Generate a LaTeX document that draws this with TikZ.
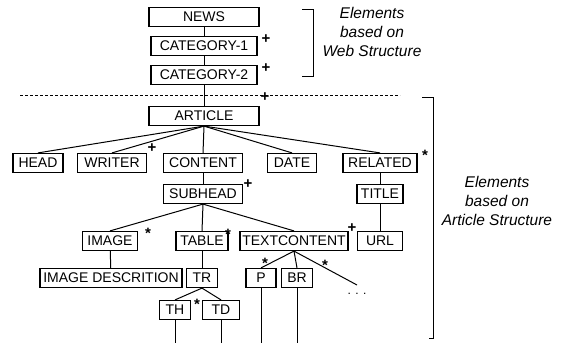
\documentclass[tikz,border=0pt]{standalone}
\usepackage{fontspec}
\setmainfont{Liberation Sans}

\begin{document}
\begin{tikzpicture}[x=1pt,y=-1pt]

\tikzset{box/.style = {shape=rectangle,draw,line width=1.2pt,inner sep=0pt,minimum height=19pt,font=\fontsize{14}{14}\selectfont}}
\tikzset{edge/.style = {line width=1pt}}
\tikzset{tag/.style = {inner sep=0pt,font=\fontsize{15}{15}\selectfont\bfseries}}
\tikzset{note/.style = {align=center,font=\fontsize{15.5}{19}\selectfont\itshape}}
\useasboundingbox (0,0) rectangle (569,348);

%web structure
\node[box, minimum width=110pt] (news) at (204,17) {NEWS};
\node[box, minimum width=106pt] (cat1) at (204,46) {CATEGORY-1};
\node[box, minimum width=106pt] (cat2) at (204,75) {CATEGORY-2};

%article structure
\node[box, minimum width=110pt] (article) at (204,116) {ARTICLE};
\node[box, minimum width=50pt] (head) at (38,163) {HEAD};
\node[box, minimum width=69pt] (writer) at (112,163) {WRITER};
\node[box, minimum width=79pt] (content) at (203,163) {CONTENT};
\node[box, minimum width=49pt] (date) at (292,163) {DATE};
\node[box, minimum width=74pt] (related) at (380,163) {RELATED};
\node[box, minimum width=79pt] (subhead) at (203,194) {SUBHEAD};
\node[box, minimum width=46pt] (title) at (380,194) {TITLE};
\node[box, minimum width=55pt] (image) at (110,241) {IMAGE};
\node[box, minimum width=52pt] (table) at (202,241) {TABLE};
\node[box, minimum width=108pt] (textcontent) at (294,241) {TEXTCONTENT};
\node[box, minimum width=45pt] (url) at (380,241) {URL};
\node[box, minimum width=142pt] (imgdesc) at (111,278) {IMAGE DESCRITION};
\node[box, minimum width=31pt] (tr) at (202,278) {TR};
\node[box, minimum width=30pt] (p) at (261,278) {P};
\node[box, minimum width=31pt] (br) at (297,278) {BR};
\node[box, minimum width=31pt] (th) at (175,310) {TH};
\node[box, minimum width=37pt] (td) at (221,310) {TD};
\coordinate (more) at (357,285);
\node[inner sep=0pt, font=\fontsize{12}{12}\selectfont] (dots) at (357,294) {. . .};

%edges
\draw[edge] (news) -- (cat1);
\draw[edge] (cat1) -- (cat2);
\draw[edge] (cat2) -- (article);
\foreach \n in {head,writer,content,date,related}
  \draw[edge] (article.south) -- (\n.north);
\draw[edge] (content) -- (subhead);
\draw[edge] (related) -- (title);
\draw[edge] (title) -- (url);
\foreach \n in {image,table,textcontent}
  \draw[edge] (subhead.south) -- (\n.north);
\draw[edge] (image) -- (imgdesc);
\draw[edge] (table) -- (tr);
\draw[edge] (tr.south) -- (th.north);
\draw[edge] (tr.south) -- (td.north);
\draw[edge] (textcontent.south) -- (p.north);
\draw[edge] (textcontent.south) -- (br.north);
\draw[edge] (textcontent.south) -- (more);
\foreach \n in {th,td,p,br} {
  \coordinate (\n-end) at (\n.south |- 0,343);
  \draw[edge] (\n) -- (\n-end);
}

%cardinality
\node[tag] (pcat1) at (266,39) {+};
\node[tag] (pcat2) at (266,68) {+};
\node[tag] (particle) at (265,97) {+};
\node[tag] (pwriter) at (152,148) {+};
\node[tag] (psubhead) at (248,184) {+};
\node[tag] (ptext) at (352,228) {+};
\node[tag] (srelated) at (425,155) {*};
\node[tag] (simage) at (148,233) {*};
\node[tag] (stable) at (228,234) {*};
\node[tag] (str) at (197,304) {*};
\node[tag] (sp) at (265,263) {*};
\node[tag] (smore) at (325,265) {*};

%brackets
\draw[dashed, dash pattern=on 3pt off 2pt, line width=0.6pt] (20,95) -- (400,95);
\draw[edge] (302,9) -- (313,9) -- (313,76) -- (302,76);
\draw[edge] (422,97) -- (433,97) -- (433,338) -- (429,338);
\node[note] (webnote) at (372,32) {Elements\\based on\\Web Structure};
\node[note] (artnote) at (497,201) {Elements\\based on\\Article Structure};

\end{tikzpicture}
\end{document}
